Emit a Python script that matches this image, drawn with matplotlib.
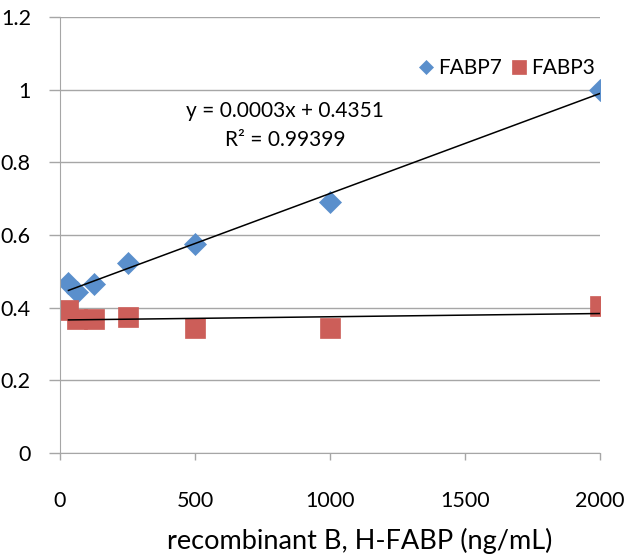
import matplotlib
matplotlib.use("Agg")
import matplotlib.pyplot as plt
import numpy as np

plt.rcParams['font.family'] = ['Lato', 'DejaVu Sans']

conc = [31.25, 62.5, 125, 250, 500, 1000, 2000]
fabp7 = [0.468, 0.443, 0.465, 0.523, 0.575, 0.692, 1.0]
fabp3 = [0.395, 0.368, 0.368, 0.375, 0.344, 0.344, 0.405]
eq_text = "y = 0.0003x + 0.4351\nR² = 0.99399"

fig = plt.figure(figsize=(6.25, 5.58), dpi=100)
ax = fig.add_axes([0.096, 0.188, 0.864, 0.7815])

blue = '#5a8fcc'
red = '#cc5e59'
grid = '#a6a6a6'

x = np.array(conc)
for ys in (fabp7, fabp3):
    p = np.polyfit(x, ys, 1)
    ax.plot([x[0], x[-1]], np.polyval(p, [x[0], x[-1]]), color='black', lw=1.1, zorder=3)

ax.plot(conc, fabp7, 'D', color=blue, ms=11, mec=blue, mew=0.5, label='FABP7', zorder=2)
ax.plot(conc, fabp3, 's', color=red, ms=14.5, mec=red, mew=0.5, label='FABP3', zorder=2)

ax.set_xlim(0, 2000)
ax.set_ylim(0, 1.2)
ax.set_xticks([0, 500, 1000, 1500, 2000])
ax.set_yticks([0, 0.2, 0.4, 0.6, 0.8, 1.0, 1.2])
ax.set_yticklabels(['0', '0.2', '0.4', '0.6', '0.8', '1', '1.2'])
ax.yaxis.grid(True, color=grid, lw=1)
ax.set_axisbelow(True)
for s in ('top', 'right'):
    ax.spines[s].set_visible(False)
for s in ('left', 'bottom'):
    ax.spines[s].set_color(grid)
ax.tick_params(axis='both', direction='out', color=grid, width=1, labelsize=15.5)
ax.tick_params(axis='y', length=8, pad=13)
ax.tick_params(axis='x', length=5, pad=22)

ax.text(0.417, 0.752, eq_text, transform=ax.transAxes, ha='center', va='center',
        fontsize=15, linespacing=1.55)

leg = ax.legend(loc='center right', bbox_to_anchor=(0.99, 0.883), ncol=2, frameon=False,
                fontsize=15, handlelength=0.7, handletextpad=0.2, columnspacing=0.5,
                markerscale=0.65, borderaxespad=0.0, borderpad=0.0)

fig.text(0.575, 0.031, 'recombinant B, H-FABP (ng/mL)', ha='center', va='center', fontsize=19.5)

fig.savefig('out.png', dpi=100)
